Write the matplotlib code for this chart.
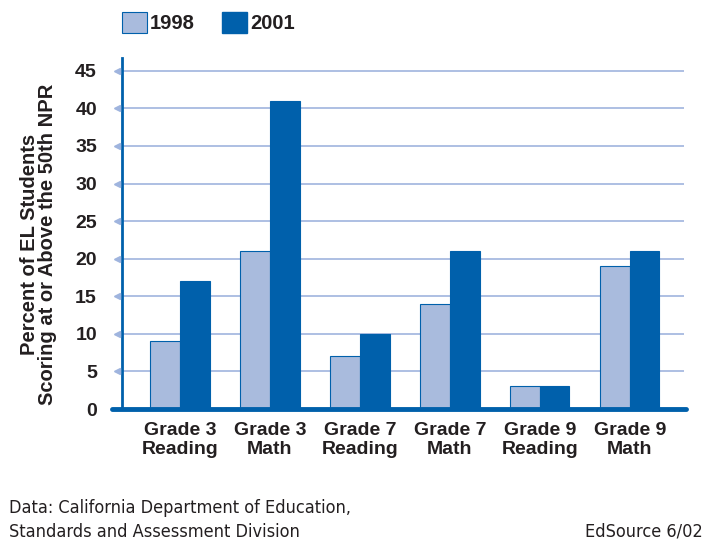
import matplotlib
matplotlib.use("Agg")
import matplotlib.pyplot as plt
import matplotlib.transforms as mtransforms
import numpy as np
from matplotlib.patches import Patch

categories = ["Grade 3\nReading", "Grade 3\nMath", "Grade 7\nReading", "Grade 7\nMath", "Grade 9\nReading", "Grade 9\nMath"]
series_names = ["1998", "2001"]
values_1998 = [9, 21, 7, 14, 3, 19]
values_2001 = [17, 41, 10, 21, 3, 21]
yticks = [0, 5, 10, 15, 20, 25, 30, 35, 40, 45]

light = "#a9bbdd"
dark = "#0060ab"
grid_c = "#9fb4de"
text_c = "#231f20"

plt.rcParams['font.family'] = ['Liberation Sans', 'DejaVu Sans']

fig = plt.figure(figsize=(7.13, 5.58), dpi=100)
ax = fig.add_axes([0.171, 0.267, 0.788, 0.629])

x = np.arange(len(categories))
w = 0.33
ax.bar(x - w/2, values_1998, w, color=light, edgecolor=dark, linewidth=0.8, zorder=3)
ax.bar(x + w/2, values_2001, w, color=dark, edgecolor=dark, linewidth=0.8, zorder=3)

ax.set_xlim(-0.644, 5.6)
ax.set_ylim(0, 46.7)
ax.set_yticks(yticks)
ax.set_yticklabels([str(t) for t in yticks], fontsize=14, fontweight='bold', color=text_c)
ax.set_xticks(x)
ax.set_xticklabels(categories, fontsize=14, fontweight='bold', color=text_c, linespacing=1.22)
ax.tick_params(axis='x', length=0, pad=9)
ax.tick_params(axis='y', length=0, pad=18)

for t in yticks[1:]:
    ax.axhline(t, color=grid_c, linewidth=1.2, zorder=1)

# small left-pointing triangle tick marks
trans = mtransforms.blended_transform_factory(ax.transAxes, ax.transData)
ax.plot([-0.008] * (len(yticks) - 1), yticks[1:], linestyle='none', marker='<', markersize=5,
        color=grid_c, transform=trans, clip_on=False, zorder=4)

for s in ['top', 'right']:
    ax.spines[s].set_visible(False)
ax.spines['left'].set_color(dark)
ax.spines['left'].set_linewidth(2)
ax.spines['bottom'].set_visible(False)
ax.plot([-0.755, 5.62], [0, 0], color=dark, linewidth=3.5, clip_on=False, zorder=5, solid_capstyle='round')

fig.text(0.054, 0.562, "Percent of EL Students\nScoring at or Above the 50th NPR", rotation=90,
         ha='center', va='center', fontsize=14.5, fontweight='bold', color=text_c, linespacing=0.95)

handles = [Patch(facecolor=light, edgecolor=dark, linewidth=0.8), Patch(facecolor=dark, edgecolor=dark)]
leg = fig.legend(handles, series_names, loc='upper left', bbox_to_anchor=(122 / 713, 1 - 12 / 558), ncol=2,
                 frameon=False, borderpad=0, borderaxespad=0,
                 handlelength=1.24, handleheight=1.24, handletextpad=0.15, columnspacing=1.35,
                 prop={'size': 14.5, 'weight': 'bold', 'family': ['Liberation Sans', 'DejaVu Sans']})
for t in leg.get_texts():
    t.set_color(text_c)

foot_family = ['DejaVu Sans']
fig.text(0.013, 1 - 513 / 558, "Data: California Department of Education,", fontsize=13, color=text_c,
         family=foot_family, fontstretch='condensed')
fig.text(0.013, 1 - 537 / 558, "Standards and Assessment Division", fontsize=13, color=text_c,
         family=foot_family, fontstretch='condensed')
fig.text(0.985, 1 - 537 / 558, "EdSource 6/02", fontsize=13, color=text_c, family=foot_family,
         fontstretch='condensed', ha='right')

fig.savefig("out.png", dpi=100)
